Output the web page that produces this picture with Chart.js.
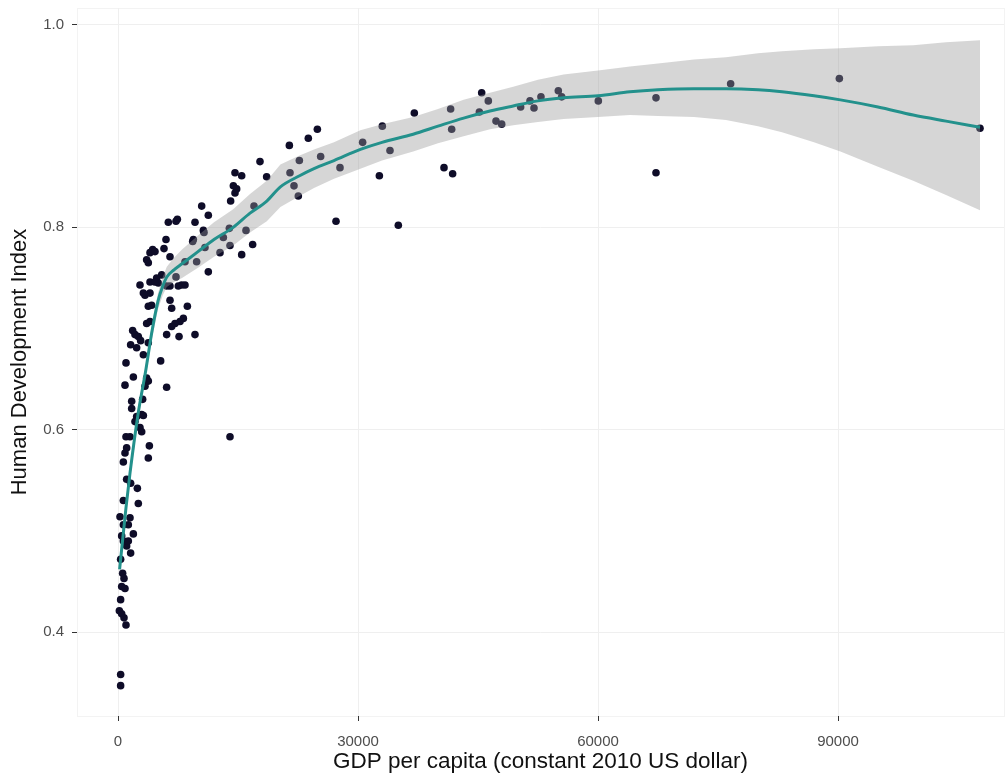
<!DOCTYPE html>
<html>
<head>
<meta charset="utf-8">
<script src="https://cdn.jsdelivr.net/npm/chart.js@4.4.0/dist/chart.umd.min.js"></script>
<style>
  html, body { margin: 0; padding: 0; background: #fff; }
  #wrap { width: 1008px; height: 776px; }
</style>
</head>
<body>
<div id="wrap"><canvas id="hdiChart"></canvas></div>
<script>
// Scatter points: GDP per capita and HDI
const gdp = [21420,23790,24920,22670,21500,22000,22540,25330,27750,27250,30580,33040,34000,32670,35040,37040,41580,41710,40750,41830,45460,46290,45170,47250,47960,50330,51500,52000,52870,55040,55460,60040,67250,67250,76580,90170,107750,
  17750,18580,17000,16830,16000,15460,14625,15460,14420,14830,14625,14080,14000,12750,13170,13920,14000,10460,11290,11290,10670,10750,10870,9625,9420,9330,9830,9625,
  6290,7420,7250,6000,5750,6500,8375,7250,8375,7960,7540,6500,6080,5460,4830,5040,8670,6500,6710,8170,7750,7125,6710,6080,7630,5330,6080,
  4330,4000,3580,3790,4625,2750,4000,3375,4000,3170,3790,4210,3580,4000,1830,2125,2540,2830,1580,2330,3790,3170,1000,1920,875,3580,3790,3375,1710,1710,
  3080,2960,2330,3170,2125,2750,2960,1000,1500,3920,3790,1080,875,670,1080,2420,1580,670,2540,250,1500,670,460,1920,1080,670,1290,1580,330,580,
  750,460,875,330,170,460,750,1000,330,330,4600,1290];
const hdi = [0.881,0.888,0.897,0.866,0.854,0.841,0.831,0.870,0.859,0.806,0.884,0.900,0.876,0.851,0.802,0.913,0.917,0.897,0.859,0.853,0.933,0.925,0.914,0.905,0.902,0.919,0.925,0.918,0.929,0.935,0.929,0.925,0.928,0.854,0.942,0.947,0.898,
  0.865,0.850,0.821,0.783,0.797,0.773,0.854,0.851,0.841,0.838,0.834,0.826,0.782,0.775,0.790,0.799,0.593,0.821,0.812,0.756,0.797,0.795,0.780,0.805,0.788,0.786,0.766,0.694,
  0.805,0.808,0.806,0.788,0.779,0.771,0.766,0.751,0.743,0.743,0.742,0.742,0.742,0.753,0.750,0.745,0.722,0.728,0.720,0.710,0.707,0.705,0.702,0.694,0.692,0.668,0.642,
  0.778,0.775,0.768,0.765,0.776,0.743,0.746,0.733,0.735,0.735,0.722,0.723,0.705,0.707,0.698,0.694,0.692,0.688,0.684,0.681,0.686,0.674,0.666,0.652,0.644,0.651,0.648,0.643,0.628,0.621,
  0.630,0.615,0.613,0.614,0.608,0.602,0.598,0.593,0.593,0.584,0.572,0.582,0.577,0.568,0.551,0.542,0.547,0.530,0.527,0.514,0.513,0.506,0.495,0.497,0.485,0.490,0.490,0.478,0.472,0.458,
  0.453,0.445,0.443,0.432,0.421,0.418,0.414,0.407,0.358,0.347,0.746,0.506];

// Smoothed fit and its confidence band
const fitGdp  = [200,1000,1500,2500,3500,4200,5000,5600,6100,7000,8000,10000,12000,14400,16500,18600,20300,22700,24500,27000,30300,33000,36900,40000,43200,46500,49400,52500,55700,60000,64000,67500,72000,76000,80000,83000,87000,90300,95000,99400,103500,107750];
const fitHdi  = [0.462,0.523,0.557,0.615,0.660,0.695,0.727,0.742,0.751,0.758,0.764,0.776,0.788,0.800,0.814,0.826,0.840,0.851,0.858,0.866,0.877,0.884,0.892,0.900,0.908,0.915,0.920,0.925,0.928,0.930,0.934,0.936,0.937,0.937,0.936,0.934,0.930,0.926,0.919,0.911,0.905,0.899];
const fitLow  = [0.455,0.517,0.551,0.609,0.654,0.688,0.719,0.733,0.741,0.746,0.750,0.760,0.771,0.782,0.795,0.806,0.820,0.831,0.839,0.848,0.858,0.866,0.875,0.883,0.890,0.897,0.901,0.904,0.907,0.909,0.911,0.910,0.909,0.906,0.900,0.894,0.884,0.875,0.860,0.846,0.832,0.817];
const fitHigh = [0.469,0.529,0.563,0.621,0.666,0.702,0.735,0.751,0.761,0.770,0.778,0.792,0.805,0.818,0.833,0.846,0.862,0.871,0.877,0.884,0.896,0.902,0.909,0.917,0.926,0.933,0.939,0.946,0.951,0.955,0.959,0.962,0.966,0.968,0.972,0.974,0.976,0.977,0.979,0.980,0.983,0.985];

const xTicks = [0, 30000, 60000, 90000];
const yTicks = [0.4, 0.6, 0.8, 1.0];

const toXY = (xs, ys) => xs.map((x, i) => ({ x: x, y: ys[i] }));

// faint panel outline
const panelBorder = {
    id: 'panelBorder',
    beforeDraw(chart) {
        const { ctx, chartArea: a } = chart;
        ctx.save();
        ctx.strokeStyle = '#f3f3f3';
        ctx.lineWidth = 1;
        ctx.strokeRect(a.left + 0.5, a.top + 0.5, a.right - a.left, a.bottom - a.top);
        ctx.restore();
    }
};

const ctx = document.getElementById('hdiChart').getContext('2d');
const hdiChart = new Chart(ctx, {
    type: 'scatter',
    data: {
        datasets: [
            {
                label: 'Countries',
                data: toXY(gdp, hdi),
                backgroundColor: '#0e0c28',
                borderColor: '#0e0c28',
                borderWidth: 0,
                pointRadius: 3.8,
                order: 3
            },
            {
                type: 'line',
                label: 'upper',
                data: toXY(fitGdp, fitHigh),
                borderWidth: 0,
                pointRadius: 0,
                fill: '+1',
                backgroundColor: 'rgba(153,153,153,0.4)',
                tension: 0,
                order: 1
            },
            {
                type: 'line',
                label: 'lower',
                data: toXY(fitGdp, fitLow),
                borderWidth: 0,
                pointRadius: 0,
                fill: false,
                tension: 0,
                order: 1
            },
            {
                type: 'line',
                label: 'fit',
                data: toXY(fitGdp, fitHdi),
                borderColor: '#23918c',
                borderWidth: 3,
                pointRadius: 0,
                fill: false,
                cubicInterpolationMode: 'monotone',
                order: 0
            }
        ]
    },
    options: {
        responsive: true,
        maintainAspectRatio: false,
        devicePixelRatio: 1,
        animation: false,
        layout: { padding: { top: 8, right: 0, left: 0, bottom: 0 } },
        plugins: { legend: { display: false }, tooltip: { enabled: false } },
        scales: {
            x: {
                type: 'linear',
                min: -5125,
                max: 110750,
                afterBuildTicks: s => { s.ticks = xTicks.map(v => ({ value: v })); },
                afterFit: s => { s.height = 60; s.paddingLeft = 0; s.paddingRight = 0; },
                grid: { color: '#efefef', tickColor: '#333', tickLength: 5 },
                border: { display: false },
                ticks: {
                    color: '#4d4d4d',
                    font: { family: 'Liberation Sans', size: 15 },
                    padding: 12,
                    maxRotation: 0,
                    callback: v => String(v)
                },
                title: {
                    display: true,
                    text: 'GDP per capita (constant 2010 US dollar)',
                    color: '#111',
                    font: { family: 'Liberation Sans', size: 22.5, lineHeight: 1.2 },
                    padding: { top: 0, bottom: 1 }
                }
            },
            y: {
                type: 'linear',
                min: 0.317,
                max: 1.0168,
                afterBuildTicks: s => { s.ticks = yTicks.map(v => ({ value: v })); },
                afterFit: s => { s.width = 77; s.paddingTop = 0; s.paddingBottom = 0; },
                grid: { color: '#efefef', tickColor: '#333', tickLength: 5 },
                border: { display: false },
                ticks: {
                    color: '#4d4d4d',
                    font: { family: 'Liberation Sans', size: 15 },
                    padding: 8,
                    callback: v => v.toFixed(1)
                },
                title: {
                    display: true,
                    text: 'Human Development Index',
                    color: '#111',
                    font: { family: 'Liberation Sans', size: 22, lineHeight: 1.2 },
                    padding: { top: 7, bottom: 0 }
                }
            }
        }
    },
    plugins: [panelBorder]
});
</script>
</body>
</html>
